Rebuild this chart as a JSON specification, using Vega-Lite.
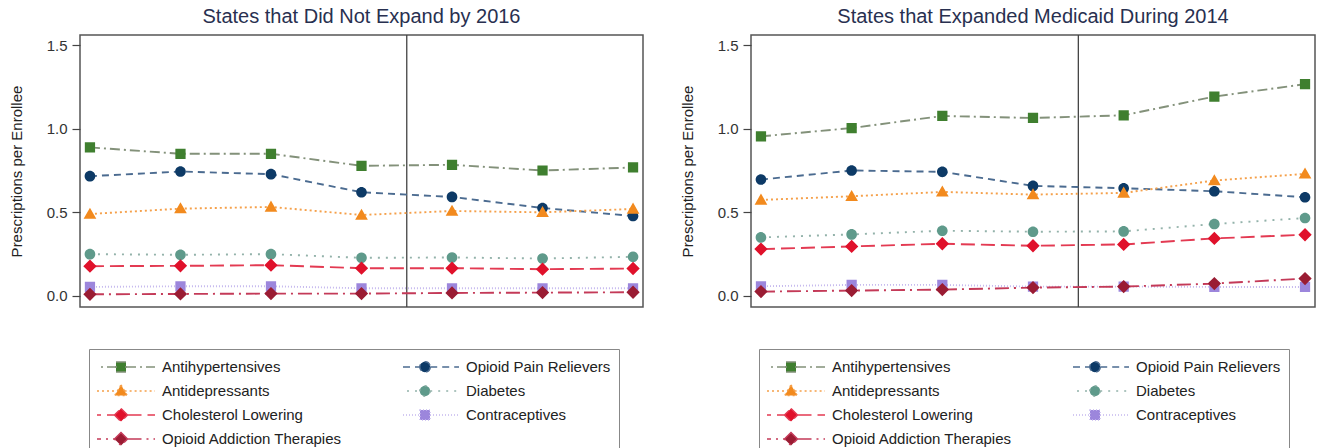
{
  "$schema": "https://vega.github.io/schema/vega-lite/v6.json",
  "padding": {"left": 8, "top": 6, "right": 5, "bottom": 0},
  "bounds": "flush",
  "spacing": 108,
  "config": {
    "font": "Liberation Sans",
    "view": {"stroke": "#555555", "strokeWidth": 1.5},
    "axis": {"grid": false, "domain": false, "tickColor": "#444444", "tickSize": 8, "tickWidth": 1.2, "labelFontSize": 15, "labelColor": "#333333", "titleFontSize": 15, "titleFontWeight": "normal", "titleColor": "#222222"},
    "title": {"fontSize": 20, "fontWeight": "normal", "color": "#283050", "offset": 7}
  },
  "data": {"values": [
    {"panel": "L", "series": "Antihypertensives", "year": 2010, "value": 0.888},
    {"panel": "L", "series": "Antihypertensives", "year": 2011, "value": 0.850},
    {"panel": "L", "series": "Antihypertensives", "year": 2012, "value": 0.850},
    {"panel": "L", "series": "Antihypertensives", "year": 2013, "value": 0.778},
    {"panel": "L", "series": "Antihypertensives", "year": 2014, "value": 0.784},
    {"panel": "L", "series": "Antihypertensives", "year": 2015, "value": 0.750},
    {"panel": "L", "series": "Antihypertensives", "year": 2016, "value": 0.768},
    {"panel": "L", "series": "Opioid Pain Relievers", "year": 2010, "value": 0.716},
    {"panel": "L", "series": "Opioid Pain Relievers", "year": 2011, "value": 0.744},
    {"panel": "L", "series": "Opioid Pain Relievers", "year": 2012, "value": 0.728},
    {"panel": "L", "series": "Opioid Pain Relievers", "year": 2013, "value": 0.620},
    {"panel": "L", "series": "Opioid Pain Relievers", "year": 2014, "value": 0.592},
    {"panel": "L", "series": "Opioid Pain Relievers", "year": 2015, "value": 0.526},
    {"panel": "L", "series": "Opioid Pain Relievers", "year": 2016, "value": 0.478},
    {"panel": "L", "series": "Antidepressants", "year": 2010, "value": 0.490},
    {"panel": "L", "series": "Antidepressants", "year": 2011, "value": 0.522},
    {"panel": "L", "series": "Antidepressants", "year": 2012, "value": 0.532},
    {"panel": "L", "series": "Antidepressants", "year": 2013, "value": 0.484},
    {"panel": "L", "series": "Antidepressants", "year": 2014, "value": 0.508},
    {"panel": "L", "series": "Antidepressants", "year": 2015, "value": 0.500},
    {"panel": "L", "series": "Antidepressants", "year": 2016, "value": 0.520},
    {"panel": "L", "series": "Diabetes", "year": 2010, "value": 0.250},
    {"panel": "L", "series": "Diabetes", "year": 2011, "value": 0.246},
    {"panel": "L", "series": "Diabetes", "year": 2012, "value": 0.250},
    {"panel": "L", "series": "Diabetes", "year": 2013, "value": 0.228},
    {"panel": "L", "series": "Diabetes", "year": 2014, "value": 0.230},
    {"panel": "L", "series": "Diabetes", "year": 2015, "value": 0.224},
    {"panel": "L", "series": "Diabetes", "year": 2016, "value": 0.234},
    {"panel": "L", "series": "Cholesterol Lowering", "year": 2010, "value": 0.178},
    {"panel": "L", "series": "Cholesterol Lowering", "year": 2011, "value": 0.180},
    {"panel": "L", "series": "Cholesterol Lowering", "year": 2012, "value": 0.184},
    {"panel": "L", "series": "Cholesterol Lowering", "year": 2013, "value": 0.166},
    {"panel": "L", "series": "Cholesterol Lowering", "year": 2014, "value": 0.166},
    {"panel": "L", "series": "Cholesterol Lowering", "year": 2015, "value": 0.160},
    {"panel": "L", "series": "Cholesterol Lowering", "year": 2016, "value": 0.164},
    {"panel": "L", "series": "Contraceptives", "year": 2010, "value": 0.054},
    {"panel": "L", "series": "Contraceptives", "year": 2011, "value": 0.058},
    {"panel": "L", "series": "Contraceptives", "year": 2012, "value": 0.058},
    {"panel": "L", "series": "Contraceptives", "year": 2013, "value": 0.046},
    {"panel": "L", "series": "Contraceptives", "year": 2014, "value": 0.046},
    {"panel": "L", "series": "Contraceptives", "year": 2015, "value": 0.046},
    {"panel": "L", "series": "Contraceptives", "year": 2016, "value": 0.046},
    {"panel": "L", "series": "Opioid Addiction Therapies", "year": 2010, "value": 0.010},
    {"panel": "L", "series": "Opioid Addiction Therapies", "year": 2011, "value": 0.012},
    {"panel": "L", "series": "Opioid Addiction Therapies", "year": 2012, "value": 0.014},
    {"panel": "L", "series": "Opioid Addiction Therapies", "year": 2013, "value": 0.014},
    {"panel": "L", "series": "Opioid Addiction Therapies", "year": 2014, "value": 0.018},
    {"panel": "L", "series": "Opioid Addiction Therapies", "year": 2015, "value": 0.020},
    {"panel": "L", "series": "Opioid Addiction Therapies", "year": 2016, "value": 0.022},
    {"panel": "R", "series": "Antihypertensives", "year": 2010, "value": 0.954},
    {"panel": "R", "series": "Antihypertensives", "year": 2011, "value": 1.004},
    {"panel": "R", "series": "Antihypertensives", "year": 2012, "value": 1.076},
    {"panel": "R", "series": "Antihypertensives", "year": 2013, "value": 1.064},
    {"panel": "R", "series": "Antihypertensives", "year": 2014, "value": 1.080},
    {"panel": "R", "series": "Antihypertensives", "year": 2015, "value": 1.192},
    {"panel": "R", "series": "Antihypertensives", "year": 2016, "value": 1.266},
    {"panel": "R", "series": "Opioid Pain Relievers", "year": 2010, "value": 0.696},
    {"panel": "R", "series": "Opioid Pain Relievers", "year": 2011, "value": 0.750},
    {"panel": "R", "series": "Opioid Pain Relievers", "year": 2012, "value": 0.742},
    {"panel": "R", "series": "Opioid Pain Relievers", "year": 2013, "value": 0.658},
    {"panel": "R", "series": "Opioid Pain Relievers", "year": 2014, "value": 0.644},
    {"panel": "R", "series": "Opioid Pain Relievers", "year": 2015, "value": 0.626},
    {"panel": "R", "series": "Opioid Pain Relievers", "year": 2016, "value": 0.590},
    {"panel": "R", "series": "Antidepressants", "year": 2010, "value": 0.574},
    {"panel": "R", "series": "Antidepressants", "year": 2011, "value": 0.596},
    {"panel": "R", "series": "Antidepressants", "year": 2012, "value": 0.622},
    {"panel": "R", "series": "Antidepressants", "year": 2013, "value": 0.606},
    {"panel": "R", "series": "Antidepressants", "year": 2014, "value": 0.616},
    {"panel": "R", "series": "Antidepressants", "year": 2015, "value": 0.690},
    {"panel": "R", "series": "Antidepressants", "year": 2016, "value": 0.730},
    {"panel": "R", "series": "Diabetes", "year": 2010, "value": 0.350},
    {"panel": "R", "series": "Diabetes", "year": 2011, "value": 0.368},
    {"panel": "R", "series": "Diabetes", "year": 2012, "value": 0.390},
    {"panel": "R", "series": "Diabetes", "year": 2013, "value": 0.384},
    {"panel": "R", "series": "Diabetes", "year": 2014, "value": 0.386},
    {"panel": "R", "series": "Diabetes", "year": 2015, "value": 0.430},
    {"panel": "R", "series": "Diabetes", "year": 2016, "value": 0.466},
    {"panel": "R", "series": "Cholesterol Lowering", "year": 2010, "value": 0.280},
    {"panel": "R", "series": "Cholesterol Lowering", "year": 2011, "value": 0.296},
    {"panel": "R", "series": "Cholesterol Lowering", "year": 2012, "value": 0.312},
    {"panel": "R", "series": "Cholesterol Lowering", "year": 2013, "value": 0.300},
    {"panel": "R", "series": "Cholesterol Lowering", "year": 2014, "value": 0.308},
    {"panel": "R", "series": "Cholesterol Lowering", "year": 2015, "value": 0.344},
    {"panel": "R", "series": "Cholesterol Lowering", "year": 2016, "value": 0.366},
    {"panel": "R", "series": "Contraceptives", "year": 2010, "value": 0.058},
    {"panel": "R", "series": "Contraceptives", "year": 2011, "value": 0.066},
    {"panel": "R", "series": "Contraceptives", "year": 2012, "value": 0.066},
    {"panel": "R", "series": "Contraceptives", "year": 2013, "value": 0.056},
    {"panel": "R", "series": "Contraceptives", "year": 2014, "value": 0.056},
    {"panel": "R", "series": "Contraceptives", "year": 2015, "value": 0.054},
    {"panel": "R", "series": "Contraceptives", "year": 2016, "value": 0.054},
    {"panel": "R", "series": "Opioid Addiction Therapies", "year": 2010, "value": 0.026},
    {"panel": "R", "series": "Opioid Addiction Therapies", "year": 2011, "value": 0.032},
    {"panel": "R", "series": "Opioid Addiction Therapies", "year": 2012, "value": 0.038},
    {"panel": "R", "series": "Opioid Addiction Therapies", "year": 2013, "value": 0.050},
    {"panel": "R", "series": "Opioid Addiction Therapies", "year": 2014, "value": 0.056},
    {"panel": "R", "series": "Opioid Addiction Therapies", "year": 2015, "value": 0.074},
    {"panel": "R", "series": "Opioid Addiction Therapies", "year": 2016, "value": 0.104}
  ]},
  "hconcat": [
    {
      "title": "States that Did Not Expand by 2016",
      "width": 563,
      "height": 272,
      "transform": [{"filter": "datum.panel === 'L'"}],
      "layer": [
        {
          "data": {"values": [{"cut": 2013.5}]},
          "mark": {"type": "rule", "color": "#444444", "strokeWidth": 1.3},
          "encoding": {"x": {"field": "cut", "type": "quantitative", "axis": null, "scale": {"domain": [2009.89, 2016.11], "nice": false, "zero": false}}}
        },
        {
          "mark": {"type": "line", "strokeWidth": 1.9},
          "encoding": {
            "x": {"field": "year", "type": "quantitative", "title": null, "scale": {"domain": [2009.89, 2016.11], "nice": false, "zero": false}, "axis": {"values": [2010, 2011, 2012, 2013, 2014, 2015, 2016], "format": "d", "labelPadding": 7}},
            "y": {"field": "value", "type": "quantitative", "title": "Prescriptions per Enrollee", "scale": {"domain": [-0.066, 1.56], "nice": false, "zero": false}, "axis": {"values": [0, 0.5, 1, 1.5], "format": ".1f", "labelPadding": 5, "titlePadding": 22}},
            "stroke": {"field": "series", "type": "nominal",
              "scale": {"domain": ["Antihypertensives", "Antidepressants", "Cholesterol Lowering", "Opioid Addiction Therapies", "Opioid Pain Relievers", "Diabetes", "Contraceptives"], "range": ["#83917a", "#f5a04a", "#e33a52", "#c43a58", "#4b6b90", "#93b2aa", "#c5b8ee"]},
              "legend": {"title": null, "orient": "none", "legendX": 9, "legendY": 314, "columns": 2, "gridAlign": "all", "columnPadding": 58, "rowPadding": 4, "padding": 8, "clipHeight": 20, "strokeColor": "#888888", "fillColor": "#ffffff", "labelFontSize": 15, "labelColor": "#222222", "labelOffset": 30, "symbolOffset": 13, "symbolSize": 400, "symbolStrokeWidth": 1.5, "labelLimit": 400}},
            "strokeDash": {"field": "series", "type": "nominal",
              "scale": {"domain": ["Antihypertensives", "Antidepressants", "Cholesterol Lowering", "Opioid Addiction Therapies", "Opioid Pain Relievers", "Diabetes", "Contraceptives"], "range": [[10, 4, 2, 4], [2, 3], [14, 6], [14, 5, 2, 5], [7, 5], [2, 6], [1, 2]]},
              "legend": {"title": null, "orient": "none", "legendX": 9, "legendY": 314, "columns": 2, "gridAlign": "all", "columnPadding": 58, "rowPadding": 4, "padding": 8, "clipHeight": 20, "strokeColor": "#888888", "fillColor": "#ffffff", "labelFontSize": 15, "labelColor": "#222222", "labelOffset": 30, "symbolOffset": 13, "symbolSize": 400, "symbolStrokeWidth": 1.5, "labelLimit": 400}}
          }
        },
        {
          "mark": {"type": "point", "filled": true, "opacity": 1, "size": 420},
          "encoding": {
            "x": {"field": "year", "type": "quantitative"},
            "y": {"field": "value", "type": "quantitative"},
            "fill": {"field": "series", "type": "nominal",
              "scale": {"domain": ["Antihypertensives", "Antidepressants", "Cholesterol Lowering", "Opioid Addiction Therapies", "Opioid Pain Relievers", "Diabetes", "Contraceptives"], "range": ["#3f7f2f", "#f28a1e", "#e0112b", "#9a1c33", "#0d3a66", "#5f9a8b", "#9c86dc"]},
              "legend": {"title": null, "orient": "none", "legendX": 9, "legendY": 314, "columns": 2, "gridAlign": "all", "columnPadding": 58, "rowPadding": 4, "padding": 8, "clipHeight": 20, "strokeColor": "#888888", "fillColor": "#ffffff", "labelFontSize": 15, "labelColor": "#222222", "labelOffset": 30, "symbolOffset": 13, "symbolSize": 400, "symbolStrokeWidth": 1.5, "labelLimit": 400}},
            "shape": {"field": "series", "type": "nominal",
              "scale": {"domain": ["Antihypertensives", "Antidepressants", "Cholesterol Lowering", "Opioid Addiction Therapies", "Opioid Pain Relievers", "Diabetes", "Contraceptives"],
                "range": ["M-3.4,0H-0.5M0.5,0H3.4M-0.5,-0.5H0.5V0.5H-0.5Z", "M-3.4,0H-0.36M0.36,0H3.4M0,-0.62L0.62,0.46H-0.62Z", "M-3.4,0H-0.65M0.65,0H3.4M0,-0.65L0.65,0L0,0.65L-0.65,0Z", "M-3.4,0H-0.65M0.65,0H3.4M0,-0.65L0.65,0L0,0.65L-0.65,0Z", "M-3.4,0H-0.52M0.52,0H3.4M0.52,0A0.52,0.52,0,1,1,-0.52,0A0.52,0.52,0,1,1,0.52,0Z", "M-3.4,0H-0.52M0.52,0H3.4M0.52,0A0.52,0.52,0,1,1,-0.52,0A0.52,0.52,0,1,1,0.52,0Z", "M-3.4,0H-0.5M0.5,0H3.4M-0.5,-0.5H0.5V0.5H-0.5Z"]},
              "legend": {"title": null, "orient": "none", "legendX": 9, "legendY": 314, "columns": 2, "gridAlign": "all", "columnPadding": 58, "rowPadding": 4, "padding": 8, "clipHeight": 20, "strokeColor": "#888888", "fillColor": "#ffffff", "labelFontSize": 15, "labelColor": "#222222", "labelOffset": 30, "symbolOffset": 13, "symbolSize": 400, "symbolStrokeWidth": 1.5, "labelLimit": 400}}
          }
        }
      ]
    },
    {
      "title": "States that Expanded Medicaid During 2014",
      "width": 564,
      "height": 272,
      "transform": [{"filter": "datum.panel === 'R'"}],
      "layer": [
        {
          "data": {"values": [{"cut": 2013.5}]},
          "mark": {"type": "rule", "color": "#444444", "strokeWidth": 1.3},
          "encoding": {"x": {"field": "cut", "type": "quantitative", "axis": null, "scale": {"domain": [2009.89, 2016.11], "nice": false, "zero": false}}}
        },
        {
          "mark": {"type": "line", "strokeWidth": 1.9},
          "encoding": {
            "x": {"field": "year", "type": "quantitative", "title": null, "scale": {"domain": [2009.89, 2016.11], "nice": false, "zero": false}, "axis": {"values": [2010, 2011, 2012, 2013, 2014, 2015, 2016], "format": "d", "labelPadding": 7}},
            "y": {"field": "value", "type": "quantitative", "title": "Prescriptions per Enrollee", "scale": {"domain": [-0.066, 1.56], "nice": false, "zero": false}, "axis": {"values": [0, 0.5, 1, 1.5], "format": ".1f", "labelPadding": 5, "titlePadding": 22}},
            "stroke": {"field": "series", "type": "nominal",
              "scale": {"domain": ["Antihypertensives", "Antidepressants", "Cholesterol Lowering", "Opioid Addiction Therapies", "Opioid Pain Relievers", "Diabetes", "Contraceptives"], "range": ["#83917a", "#f5a04a", "#e33a52", "#c43a58", "#4b6b90", "#93b2aa", "#c5b8ee"]},
              "legend": {"title": null, "orient": "none", "legendX": 8, "legendY": 314, "columns": 2, "gridAlign": "all", "columnPadding": 58, "rowPadding": 4, "padding": 8, "clipHeight": 20, "strokeColor": "#888888", "fillColor": "#ffffff", "labelFontSize": 15, "labelColor": "#222222", "labelOffset": 30, "symbolOffset": 13, "symbolSize": 400, "symbolStrokeWidth": 1.5, "labelLimit": 400}},
            "strokeDash": {"field": "series", "type": "nominal",
              "scale": {"domain": ["Antihypertensives", "Antidepressants", "Cholesterol Lowering", "Opioid Addiction Therapies", "Opioid Pain Relievers", "Diabetes", "Contraceptives"], "range": [[10, 4, 2, 4], [2, 3], [14, 6], [14, 5, 2, 5], [7, 5], [2, 6], [1, 2]]},
              "legend": {"title": null, "orient": "none", "legendX": 8, "legendY": 314, "columns": 2, "gridAlign": "all", "columnPadding": 58, "rowPadding": 4, "padding": 8, "clipHeight": 20, "strokeColor": "#888888", "fillColor": "#ffffff", "labelFontSize": 15, "labelColor": "#222222", "labelOffset": 30, "symbolOffset": 13, "symbolSize": 400, "symbolStrokeWidth": 1.5, "labelLimit": 400}}
          }
        },
        {
          "mark": {"type": "point", "filled": true, "opacity": 1, "size": 420},
          "encoding": {
            "x": {"field": "year", "type": "quantitative"},
            "y": {"field": "value", "type": "quantitative"},
            "fill": {"field": "series", "type": "nominal",
              "scale": {"domain": ["Antihypertensives", "Antidepressants", "Cholesterol Lowering", "Opioid Addiction Therapies", "Opioid Pain Relievers", "Diabetes", "Contraceptives"], "range": ["#3f7f2f", "#f28a1e", "#e0112b", "#9a1c33", "#0d3a66", "#5f9a8b", "#9c86dc"]},
              "legend": {"title": null, "orient": "none", "legendX": 8, "legendY": 314, "columns": 2, "gridAlign": "all", "columnPadding": 58, "rowPadding": 4, "padding": 8, "clipHeight": 20, "strokeColor": "#888888", "fillColor": "#ffffff", "labelFontSize": 15, "labelColor": "#222222", "labelOffset": 30, "symbolOffset": 13, "symbolSize": 400, "symbolStrokeWidth": 1.5, "labelLimit": 400}},
            "shape": {"field": "series", "type": "nominal",
              "scale": {"domain": ["Antihypertensives", "Antidepressants", "Cholesterol Lowering", "Opioid Addiction Therapies", "Opioid Pain Relievers", "Diabetes", "Contraceptives"],
                "range": ["M-3.4,0H-0.5M0.5,0H3.4M-0.5,-0.5H0.5V0.5H-0.5Z", "M-3.4,0H-0.36M0.36,0H3.4M0,-0.62L0.62,0.46H-0.62Z", "M-3.4,0H-0.65M0.65,0H3.4M0,-0.65L0.65,0L0,0.65L-0.65,0Z", "M-3.4,0H-0.65M0.65,0H3.4M0,-0.65L0.65,0L0,0.65L-0.65,0Z", "M-3.4,0H-0.52M0.52,0H3.4M0.52,0A0.52,0.52,0,1,1,-0.52,0A0.52,0.52,0,1,1,0.52,0Z", "M-3.4,0H-0.52M0.52,0H3.4M0.52,0A0.52,0.52,0,1,1,-0.52,0A0.52,0.52,0,1,1,0.52,0Z", "M-3.4,0H-0.5M0.5,0H3.4M-0.5,-0.5H0.5V0.5H-0.5Z"]},
              "legend": {"title": null, "orient": "none", "legendX": 8, "legendY": 314, "columns": 2, "gridAlign": "all", "columnPadding": 58, "rowPadding": 4, "padding": 8, "clipHeight": 20, "strokeColor": "#888888", "fillColor": "#ffffff", "labelFontSize": 15, "labelColor": "#222222", "labelOffset": 30, "symbolOffset": 13, "symbolSize": 400, "symbolStrokeWidth": 1.5, "labelLimit": 400}}
          }
        }
      ]
    }
  ],
  "resolve": {
    "scale": {"fill": "independent", "stroke": "independent", "strokeDash": "independent", "shape": "independent"},
    "legend": {"fill": "independent", "stroke": "independent", "strokeDash": "independent", "shape": "independent"}
  }
}
